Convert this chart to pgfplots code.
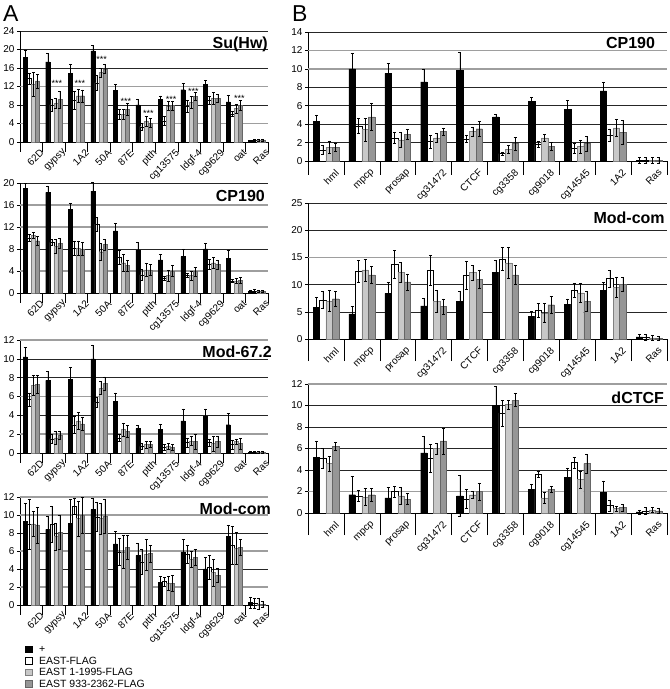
\documentclass[border=0pt]{standalone}
\usepackage{fontspec}
\setmainfont{Liberation Sans}
\usepackage{pgfplots}
\pgfplotsset{compat=1.18}
\definecolor{lightg}{RGB}{200,200,200}
\definecolor{midg}{RGB}{150,150,150}
\tikzset{ttl/.style={anchor=north east, inner sep=0pt, font=\bfseries\fontsize{16}{16}\selectfont}}
\pgfplotsset{
  panel/.style={
    scale only axis, anchor=south west,
    ybar, bar width=0.18,
    ymin=0, xmin=-0.5,
    axis x line*=bottom, axis y line*=left,
    axis line style={-, black, line width=0.6pt},
    tick align=outside,
    xtick style={/pgfplots/major tick length=10pt, black, line width=0.6pt},
    ytick style={/pgfplots/major tick length=3pt, black, line width=0.5pt},
    ymajorgrids,
    major grid style={black!85, line width=0.5pt},
    extra y tick style={grid=major, major grid style={black!38, line width=1.4pt}},
    /pgf/number format/assume math mode=true,
    tick label style={font=\fontsize{10}{10}\selectfont},
    yticklabel style={inner sep=1pt},
    error bars/y dir=both, error bars/y explicit,
    error bars/error bar style={line width=0.4pt, black},
    error bars/error mark options={rotate=90, mark size=1.5pt, line width=0.4pt, black},
    clip=false,
  },
  panelA/.style={panel, width=248pt, xmax=10.5,
    xtick={-0.5,0.5,...,10.5},
    xticklabels={62D,gypsy,1A2,50A,87E,ptth,cg13575,ldgf-4,cg9629,oat,Ras,{}},
    xticklabel style={xshift=19.5pt, yshift=-2pt, rotate=45, anchor=north east, inner sep=0pt}},
  panelB/.style={panel, width=359pt, xmax=9.5,
    xtick={-0.5,0.5,...,9.5},
    xticklabels={hml,mpcp,prosap,cg31472,CTCF,cg3358,cg9018,cg14545,1A2,Ras,{}},
    xticklabel style={xshift=26.5pt, yshift=-3pt, rotate=45, anchor=north east, inner sep=0pt}},
  sqleg/.style={legend image code/.code={\draw[##1, line width=0.4pt] (0pt,-3.4pt) rectangle (6.8pt,3.4pt);}},
  s1/.style={fill=black, draw=black, bar shift=-0.27, sqleg},
  s2/.style={fill=white, draw=black, bar shift=-0.09, sqleg},
  s3/.style={fill=lightg, draw=black!50, bar shift=0.09, sqleg},
  s4/.style={fill=midg, draw=black!60, bar shift=0.27, sqleg},
}
\begin{document}
\begin{tikzpicture}
\useasboundingbox (0,0) rectangle (670pt,689pt);
\node[anchor=base west, inner sep=0pt, font=\fontsize{23}{23}\selectfont] at (3pt,667pt) {A};
\node[anchor=base west, inner sep=0pt, font=\fontsize{23}{23}\selectfont] at (292pt,667pt) {B};

% ---------------- A: Su(Hw)
\begin{axis}[panelA, at={(20pt,547pt)}, height=111pt, ymax=24, ytick={0,8,16,20,24}, extra y ticks={4,12}]
\addplot[s1] coordinates {(0,18.3)+-(0,1.6) (1,17.3)+-(0,1.9) (2,14.8)+-(0,2.0) (3,19.7)+-(0,1.2) (4,11.2)+-(0,1.2) (5,8.0)+-(0,1.3) (6,9.2)+-(0,0.8) (7,11.3)+-(0,1.4) (8,12.4)+-(0,0.9) (9,8.7)+-(0,1.5) (10,0.3)+-(0,0.1)};
\addplot[s2] coordinates {(0,13.7)+-(0,1.2) (1,8.0)+-(0,1.3) (2,9.0)+-(0,2.0) (3,12.8)+-(0,1.7) (4,6.0)+-(0,1.0) (5,3.3)+-(0,0.7) (6,4.6)+-(0,1.0) (7,7.8)+-(0,1.3) (8,9.0)+-(0,0.8) (9,6.1)+-(0,0.5) (10,0.3)+-(0,0.2)};
\addplot[s3] coordinates {(0,12.5)+-(0,2.5) (1,8.4)+-(0,1.0) (2,10.0)+-(0,1.5) (3,15.0)+-(0,1.0) (4,6.0)+-(0,1.0) (5,4.5)+-(0,1.0) (6,7.8)+-(0,1.0) (7,8.6)+-(0,1.2) (8,9.4)+-(0,1.3) (9,7.2)+-(0,1.0) (10,0.3)+-(0,0.2)};
\addplot[s4] coordinates {(0,13.2)+-(0,1.5) (1,9.2)+-(0,1.8) (2,10.0)+-(0,1.3) (3,15.8)+-(0,1.0) (4,7.1)+-(0,1.2) (5,4.1)+-(0,1.0) (6,7.9)+-(0,1.0) (7,9.9)+-(0,0.9) (8,9.5)+-(0,0.8) (9,7.9)+-(0,1.1) (10,0.3)+-(0,0.2)};
\node[ttl] at (rel axis cs:1,0.946) {Su(Hw)};
\begin{scope}[every node/.style={anchor=base, inner sep=0pt, font=\fontsize{9}{9}\selectfont}]
\node at (axis cs:1.14,12.1) {***};
\node at (axis cs:2.16,12.1) {***};
\node at (axis cs:3.12,17.2) {***};
\node at (axis cs:4.2,8.2) {***};
\node at (axis cs:5.19,5.5) {***};
\node at (axis cs:6.2,8.6) {***};
\node at (axis cs:7.19,10.3) {***};
\node at (axis cs:9.23,8.7) {***};
\end{scope}
\end{axis}

% ---------------- A: CP190
\begin{axis}[panelA, at={(20pt,396pt)}, height=110pt, ymax=20, ytick={0,8,20}, extra y ticks={4,12,16}]
\addplot[s1] coordinates {(0,19.0)+-(0,0.9) (1,18.3)+-(0,1.2) (2,15.2)+-(0,1.1) (3,18.5)+-(0,1.7) (4,11.3)+-(0,1.3) (5,7.8)+-(0,1.5) (6,6.0)+-(0,1.0) (7,6.6)+-(0,1.4) (8,8.0)+-(0,1.0) (9,6.3)+-(0,1.4) (10,0.3)+-(0,0.2)};
\addplot[s2] coordinates {(0,10.0)+-(0,0.6) (1,9.2)+-(0,0.6) (2,8.2)+-(0,1.3) (3,12.5)+-(0,1.3) (4,6.5)+-(0,1.2) (5,3.3)+-(0,1.0) (6,2.7)+-(0,0.4) (7,3.2)+-(0,0.4) (8,5.2)+-(0,0.9) (9,2.2)+-(0,0.3) (10,0.4)+-(0,0.3)};
\addplot[s3] coordinates {(0,10.5)+-(0,0.5) (1,8.5)+-(0,1.3) (2,8.2)+-(0,1.3) (3,7.5)+-(0,1.5) (4,5.5)+-(0,1.5) (5,4.2)+-(0,1.2) (6,3.2)+-(0,1.0) (7,3.2)+-(0,0.8) (8,5.5)+-(0,1.0) (9,2.2)+-(0,0.4) (10,0.3)+-(0,0.2)};
\addplot[s4] coordinates {(0,9.5)+-(0,0.8) (1,9.0)+-(0,0.9) (2,8.0)+-(0,1.2) (3,8.8)+-(0,1.0) (4,5.0)+-(0,1.0) (5,4.2)+-(0,1.0) (6,4.0)+-(0,1.0) (7,3.9)+-(0,0.8) (8,5.2)+-(0,0.8) (9,2.3)+-(0,0.5) (10,0.3)+-(0,0.2)};
\node[ttl] at (rel axis cs:0.988,0.936) {CP190};
\end{axis}

% ---------------- A: Mod-67.2
\begin{axis}[panelA, at={(20pt,236pt)}, height=113pt, ymax=12, ytick={0,4,8,10}, extra y ticks={2,6,12}]
\addplot[s1] coordinates {(0,10.2)+-(0,1.0) (1,7.7)+-(0,1.0) (2,7.8)+-(0,1.3) (3,10.0)+-(0,1.5) (4,5.5)+-(0,0.9) (5,2.6)+-(0,0.3) (6,2.5)+-(0,0.6) (7,3.4)+-(0,1.3) (8,3.9)+-(0,0.8) (9,3.0)+-(0,1.2) (10,0.1)+-(0,0.1)};
\addplot[s2] coordinates {(0,5.7)+-(0,0.7) (1,1.5)+-(0,0.5) (2,3.0)+-(0,0.9) (3,5.4)+-(0,0.5) (4,1.6)+-(0,0.4) (5,0.7)+-(0,0.3) (6,0.6)+-(0,0.3) (7,1.1)+-(0,0.5) (8,1.1)+-(0,0.4) (9,0.9)+-(0,0.5) (10,0.1)+-(0,0.1)};
\addplot[s3] coordinates {(0,7.2)+-(0,1.1) (1,1.6)+-(0,0.7) (2,3.4)+-(0,0.9) (3,6.9)+-(0,0.7) (4,2.5)+-(0,0.7) (5,0.9)+-(0,0.4) (6,0.7)+-(0,0.3) (7,1.3)+-(0,0.5) (8,1.0)+-(0,0.8) (9,1.2)+-(0,0.3) (10,0.1)+-(0,0.1)};
\addplot[s4] coordinates {(0,7.3)+-(0,1.0) (1,1.9)+-(0,0.4) (2,3.1)+-(0,0.7) (3,7.4)+-(0,0.7) (4,2.3)+-(0,0.6) (5,0.9)+-(0,0.3) (6,0.6)+-(0,0.3) (7,1.2)+-(0,0.8) (8,1.2)+-(0,0.6) (9,1.0)+-(0,0.6) (10,0.1)+-(0,0.1)};
\node[ttl] at (rel axis cs:1.016,0.947) {Mod-67.2};
\end{axis}

% ---------------- A: Mod-com
\begin{axis}[panelA, at={(20pt,84pt)}, height=108pt, ymax=12, ytick={0,4,8}, extra y ticks={2,6,10,12},
  legend style={at={(axis description cs:0.02,-0.365)}, anchor=north west, draw=none, fill=none, inner sep=0pt, outer sep=0pt, row sep=2pt, font=\fontsize{10.5}{10.5}\selectfont, nodes={inner sep=1pt, text height=7.5pt, text depth=0pt}, /tikz/every odd column/.append style={column sep=6pt}},
  legend cell align=left]
\addplot[s1] coordinates {(0,9.3)+-(0,2.0) (1,8.4)+-(0,1.5) (2,9.1)+-(0,2.6) (3,10.6)+-(0,1.3) (4,6.8)+-(0,1.4) (5,5.5)+-(0,1.4) (6,2.5)+-(0,0.7) (7,5.9)+-(0,1.4) (8,4.0)+-(0,1.3) (9,7.6)+-(0,1.3) (10,0.3)+-(0,0.6)};
\addlegendentry{+}
\addplot[s2] coordinates {(0,9.0)+-(0,2.8) (1,9.0)+-(0,2.0) (2,11.0)+-(0,0.9) (3,9.8)+-(0,1.6) (4,5.9)+-(0,1.5) (5,4.8)+-(0,1.4) (6,2.6)+-(0,0.5) (7,5.6)+-(0,1.0) (8,4.2)+-(0,1.3) (9,6.6)+-(0,2.1) (10,0.2)+-(0,0.6)};
\addlegendentry{EAST-FLAG}
\addplot[s3] coordinates {(0,9.0)+-(0,1.4) (1,7.6)+-(0,1.5) (2,9.6)+-(0,1.9) (3,9.6)+-(0,1.7) (4,5.9)+-(0,1.8) (5,5.6)+-(0,1.7) (6,2.4)+-(0,0.8) (7,5.1)+-(0,0.9) (8,3.6)+-(0,1.5) (9,6.3)+-(0,1.8) (10,0.1)+-(0,0.6)};
\addlegendentry{EAST 1-1995-FLAG}
\addplot[s4] coordinates {(0,8.9)+-(0,2.0) (1,8.1)+-(0,1.9) (2,10.0)+-(0,2.0) (3,9.9)+-(0,1.9) (4,6.4)+-(0,1.3) (5,5.7)+-(0,0.9) (6,2.4)+-(0,0.9) (7,5.3)+-(0,0.9) (8,3.3)+-(0,0.8) (9,6.4)+-(0,0.9) (10,0.1)+-(0,0.3)};
\addlegendentry{EAST 933-2362-FLAG}
\node[ttl] at (rel axis cs:1.012,0.944) {Mod-com};
\end{axis}

% ---------------- B: CP190
\begin{axis}[panelB, at={(308pt,528pt)}, height=129pt, ymax=14, ytick={0,2,4,6,8,14}, extra y ticks={10,12},
  xtick style={/pgfplots/major tick length=14pt}]
\addplot[s1] coordinates {(0,4.3)+-(0,0.7) (1,10.0)+-(0,1.7) (2,9.5)+-(0,1.1) (3,8.6)+-(0,1.4) (4,9.8)+-(0,2.0) (5,4.8)+-(0,0.3) (6,6.5)+-(0,0.4) (7,5.6)+-(0,1.0) (8,7.6)+-(0,1.0) (9,0.1)+-(0,0.3)};
\addplot[s2] coordinates {(0,1.2)+-(0,0.5) (1,3.8)+-(0,0.8) (2,2.5)+-(0,0.6) (3,2.1)+-(0,0.7) (4,2.4)+-(0,0.4) (5,0.8)+-(0,0.2) (6,1.8)+-(0,0.3) (7,1.4)+-(0,0.5) (8,2.8)+-(0,0.7) (9,0.1)+-(0,0.3)};
\addplot[s3] coordinates {(0,1.5)+-(0,0.7) (1,3.4)+-(0,1.2) (2,2.3)+-(0,0.8) (3,2.5)+-(0,0.5) (4,3.2)+-(0,0.5) (5,1.3)+-(0,0.4) (6,2.5)+-(0,0.4) (7,1.6)+-(0,0.7) (8,3.6)+-(0,0.9) (9,0.1)+-(0,0.3)};
\addplot[s4] coordinates {(0,1.5)+-(0,0.4) (1,4.8)+-(0,1.5) (2,2.9)+-(0,0.5) (3,3.2)+-(0,0.4) (4,3.5)+-(0,0.8) (5,1.9)+-(0,0.7) (6,1.6)+-(0,0.4) (7,1.9)+-(0,0.8) (8,3.1)+-(0,1.3) (9,0.1)+-(0,0.3)};
\node[ttl] at (rel axis cs:0.967,0.961) {CP190};
\end{axis}

% ---------------- B: Mod-com
\begin{axis}[panelB, at={(308pt,350pt)}, height=136pt, ymax=25, ytick={0,5,10,20,25}, extra y ticks={15},
  xtick style={/pgfplots/major tick length=22pt}]
\addplot[s1] coordinates {(0,5.8)+-(0,1.8) (1,4.6)+-(0,1.4) (2,8.4)+-(0,2.0) (3,6.1)+-(0,1.4) (4,6.9)+-(0,1.9) (5,12.2)+-(0,2.3) (6,4.1)+-(0,1.0) (7,6.4)+-(0,1.0) (8,8.9)+-(0,1.5) (9,0.4)+-(0,0.4)};
\addplot[s2] coordinates {(0,7.2)+-(0,1.5) (1,12.4)+-(0,2.0) (2,13.7)+-(0,2.6) (3,12.6)+-(0,2.8) (4,11.7)+-(0,2.6) (5,14.7)+-(0,2.1) (6,5.3)+-(0,1.3) (7,8.9)+-(0,1.3) (8,11.1)+-(0,1.5) (9,0.3)+-(0,0.6)};
\addplot[s3] coordinates {(0,7.0)+-(0,1.9) (1,12.7)+-(0,2.0) (2,12.3)+-(0,1.8) (3,6.9)+-(0,2.0) (4,12.2)+-(0,1.3) (5,14.0)+-(0,2.8) (6,4.8)+-(0,1.8) (7,8.5)+-(0,1.7) (8,9.5)+-(0,1.9) (9,0.2)+-(0,0.5)};
\addplot[s4] coordinates {(0,7.4)+-(0,1.4) (1,11.8)+-(0,1.5) (2,10.5)+-(0,1.5) (3,6.0)+-(0,1.4) (4,11.0)+-(0,1.7) (5,11.8)+-(0,1.8) (6,6.3)+-(0,1.5) (7,6.9)+-(0,1.8) (8,10.0)+-(0,1.3) (9,0.1)+-(0,0.4)};
\node[ttl] at (rel axis cs:0.994,0.934) {Mod-com};
\end{axis}

% ---------------- B: dCTCF
\begin{axis}[panelB, at={(308pt,176pt)}, height=129pt, ymax=12, ytick={0,4,6,8,10}, extra y ticks={2,12},
  xtick style={/pgfplots/major tick length=22pt}]
\addplot[s1] coordinates {(0,5.2)+-(0,1.5) (1,1.7)+-(0,1.7) (2,1.4)+-(0,1.0) (3,5.6)+-(0,1.5) (4,1.6)+-(0,1.9) (5,10.0)+-(0,1.8) (6,2.2)+-(0,0.5) (7,3.3)+-(0,0.9) (8,1.9)+-(0,1.1) (9,0.1)+-(0,0.2)};
\addplot[s2] coordinates {(0,5.1)+-(0,0.9) (1,1.6)+-(0,0.5) (2,2.0)+-(0,0.5) (3,5.1)+-(0,1.3) (4,1.3)+-(0,0.9) (5,9.3)+-(0,1.2) (6,3.6)+-(0,0.3) (7,4.7)+-(0,0.5) (8,0.7)+-(0,0.5) (9,0.2)+-(0,0.3)};
\addplot[s3] coordinates {(0,4.6)+-(0,0.7) (1,1.5)+-(0,0.8) (2,1.6)+-(0,0.8) (3,6.0)+-(0,0.5) (4,1.7)+-(0,0.3) (5,10.1)+-(0,0.4) (6,1.4)+-(0,0.5) (7,3.1)+-(0,0.8) (8,0.4)+-(0,0.2) (9,0.3)+-(0,0.2)};
\addplot[s4] coordinates {(0,6.2)+-(0,0.4) (1,1.7)+-(0,0.6) (2,1.3)+-(0,0.5) (3,6.7)+-(0,1.2) (4,2.0)+-(0,0.8) (5,10.5)+-(0,0.6) (6,2.2)+-(0,0.3) (7,4.6)+-(0,0.9) (8,0.5)+-(0,0.3) (9,0.2)+-(0,0.2)};
\node[ttl] at (rel axis cs:0.992,0.938) {dCTCF};
\end{axis}
\end{tikzpicture}
\end{document}
